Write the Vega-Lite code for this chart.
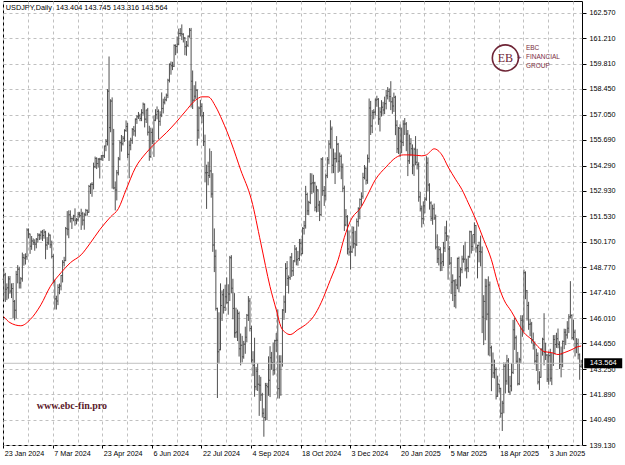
{
"$schema": "https://vega.github.io/schema/vega-lite/v6.json",
"width": 579, "height": 444,
"autosize": {"type": "none"},
"padding": {"left": 3, "top": 1, "right": 43, "bottom": 20},
"background": "white",
"config": {"view": {"stroke": "#000", "strokeWidth": 1}, "font": "Liberation Sans", "axis": {"labelOverlap": false}},
"datasets": {
"bars": [
{"d":"2024-01-23","o":148.12,"h":148.70,"l":146.98,"c":148.36,"ma":146.09},
{"d":"2024-01-24","o":148.36,"h":148.47,"l":146.89,"c":147.58},
{"d":"2024-01-25","o":147.58,"h":147.90,"l":146.99,"c":147.66},
{"d":"2024-01-26","o":147.66,"h":148.29,"l":147.07,"c":148.14},
{"d":"2024-01-29","o":148.14,"h":148.30,"l":147.34,"c":147.48,"ma":145.77},
{"d":"2024-01-30","o":147.48,"h":147.90,"l":147.10,"c":147.62},
{"d":"2024-01-31","o":147.62,"h":147.92,"l":146.00,"c":146.92},
{"d":"2024-02-01","o":146.92,"h":147.00,"l":145.90,"c":146.44},
{"d":"2024-02-02","o":146.44,"h":148.58,"l":146.00,"c":148.38},
{"d":"2024-02-05","o":148.38,"h":148.89,"l":147.90,"c":148.67},
{"d":"2024-02-06","o":148.67,"h":148.80,"l":147.62,"c":147.92},
{"d":"2024-02-07","o":147.92,"h":148.24,"l":147.62,"c":148.15,"ma":145.60},
{"d":"2024-02-08","o":148.15,"h":149.57,"l":147.99,"c":149.30},
{"d":"2024-02-09","o":149.30,"h":149.49,"l":148.86,"c":149.27},
{"d":"2024-02-12","o":149.27,"h":149.53,"l":148.92,"c":149.35},
{"d":"2024-02-13","o":149.35,"h":150.89,"l":149.18,"c":150.80},
{"d":"2024-02-14","o":150.80,"h":150.88,"l":150.35,"c":150.58},
{"d":"2024-02-15","o":150.58,"h":150.60,"l":149.50,"c":149.92,"ma":145.93},
{"d":"2024-02-16","o":149.92,"h":150.47,"l":149.72,"c":150.20},
{"d":"2024-02-19","o":150.20,"h":150.34,"l":149.98,"c":150.12},
{"d":"2024-02-20","o":150.12,"h":150.29,"l":149.67,"c":150.03},
{"d":"2024-02-21","o":150.03,"h":150.36,"l":149.80,"c":150.29},
{"d":"2024-02-22","o":150.29,"h":150.63,"l":150.10,"c":150.52},
{"d":"2024-02-23","o":150.52,"h":150.60,"l":150.25,"c":150.51},
{"d":"2024-02-26","o":150.51,"h":150.76,"l":150.28,"c":150.68,"ma":146.74},
{"d":"2024-02-27","o":150.68,"h":150.80,"l":150.20,"c":150.50},
{"d":"2024-02-28","o":150.50,"h":150.84,"l":150.32,"c":150.68},
{"d":"2024-02-29","o":150.68,"h":150.75,"l":149.21,"c":149.98},
{"d":"2024-03-01","o":149.98,"h":150.41,"l":149.72,"c":150.10},
{"d":"2024-03-04","o":150.10,"h":150.65,"l":149.99,"c":150.52},
{"d":"2024-03-05","o":150.52,"h":150.55,"l":149.81,"c":150.00,"ma":147.72},
{"d":"2024-03-06","o":150.00,"h":150.22,"l":149.25,"c":149.36},
{"d":"2024-03-07","o":149.36,"h":149.48,"l":147.90,"c":147.99},
{"d":"2024-03-08","o":147.99,"h":148.10,"l":146.48,"c":147.06},
{"d":"2024-03-11","o":147.06,"h":147.23,"l":146.48,"c":146.94},
{"d":"2024-03-12","o":146.94,"h":147.85,"l":146.72,"c":147.68},
{"d":"2024-03-13","o":147.68,"h":147.89,"l":147.31,"c":147.76},
{"d":"2024-03-14","o":147.76,"h":148.36,"l":147.52,"c":148.33,"ma":148.48},
{"d":"2024-03-15","o":148.33,"h":149.16,"l":147.95,"c":149.04},
{"d":"2024-03-18","o":149.04,"h":149.34,"l":148.82,"c":149.14},
{"d":"2024-03-19","o":149.14,"h":150.96,"l":149.10,"c":150.87},
{"d":"2024-03-20","o":150.87,"h":151.82,"l":150.50,"c":150.84},
{"d":"2024-03-21","o":150.84,"h":151.86,"l":150.35,"c":151.62},
{"d":"2024-03-22","o":151.62,"h":151.86,"l":151.20,"c":151.42,"ma":149.02},
{"d":"2024-03-25","o":151.42,"h":151.48,"l":150.85,"c":151.41},
{"d":"2024-03-26","o":151.41,"h":151.62,"l":151.27,"c":151.55},
{"d":"2024-03-27","o":151.55,"h":151.97,"l":151.03,"c":151.33},
{"d":"2024-03-28","o":151.33,"h":151.45,"l":151.10,"c":151.35},
{"d":"2024-04-01","o":151.35,"h":151.77,"l":151.25,"c":151.65},
{"d":"2024-04-02","o":151.65,"h":151.78,"l":151.47,"c":151.57},
{"d":"2024-04-03","o":151.57,"h":151.95,"l":150.80,"c":151.68,"ma":149.45},
{"d":"2024-04-04","o":151.68,"h":151.78,"l":151.04,"c":151.33},
{"d":"2024-04-05","o":151.33,"h":151.73,"l":150.81,"c":151.62},
{"d":"2024-04-08","o":151.62,"h":151.94,"l":151.54,"c":151.86},
{"d":"2024-04-09","o":151.86,"h":151.90,"l":151.58,"c":151.76},
{"d":"2024-04-10","o":151.76,"h":153.24,"l":151.73,"c":153.16},
{"d":"2024-04-11","o":153.16,"h":153.32,"l":152.75,"c":153.28,"ma":150.10},
{"d":"2024-04-12","o":153.28,"h":153.39,"l":152.60,"c":153.27},
{"d":"2024-04-15","o":153.27,"h":154.45,"l":153.00,"c":154.23},
{"d":"2024-04-16","o":154.23,"h":154.78,"l":154.15,"c":154.68},
{"d":"2024-04-17","o":154.68,"h":154.74,"l":154.10,"c":154.40},
{"d":"2024-04-18","o":154.40,"h":154.70,"l":154.18,"c":154.63},
{"d":"2024-04-19","o":154.63,"h":154.71,"l":153.59,"c":154.64,"ma":150.81},
{"d":"2024-04-22","o":154.64,"h":154.86,"l":154.57,"c":154.82},
{"d":"2024-04-23","o":154.82,"h":154.88,"l":154.54,"c":154.82},
{"d":"2024-04-24","o":154.82,"h":155.37,"l":154.70,"c":155.35},
{"d":"2024-04-25","o":155.35,"h":155.73,"l":155.07,"c":155.60},
{"d":"2024-04-26","o":155.60,"h":158.44,"l":155.38,"c":158.33},
{"d":"2024-04-29","o":158.33,"h":160.21,"l":154.54,"c":156.35},
{"d":"2024-04-30","o":156.35,"h":157.89,"l":156.10,"c":157.79,"ma":151.51},
{"d":"2024-05-01","o":157.79,"h":157.99,"l":153.04,"c":155.46},
{"d":"2024-05-02","o":155.46,"h":156.28,"l":153.00,"c":153.08},
{"d":"2024-05-03","o":153.08,"h":153.43,"l":151.86,"c":152.97},
{"d":"2024-05-06","o":152.97,"h":154.05,"l":152.40,"c":153.90},
{"d":"2024-05-07","o":153.90,"h":154.76,"l":153.76,"c":154.65,"ma":151.95},
{"d":"2024-05-08","o":154.65,"h":155.66,"l":154.57,"c":155.53},
{"d":"2024-05-09","o":155.53,"h":155.95,"l":155.05,"c":155.47},
{"d":"2024-05-10","o":155.47,"h":155.90,"l":155.38,"c":155.77},
{"d":"2024-05-13","o":155.77,"h":156.26,"l":155.58,"c":156.20},
{"d":"2024-05-14","o":156.20,"h":156.74,"l":156.12,"c":156.41,"ma":152.98},
{"d":"2024-05-15","o":156.41,"h":156.60,"l":154.70,"c":154.90},
{"d":"2024-05-16","o":154.90,"h":155.65,"l":153.60,"c":155.40},
{"d":"2024-05-17","o":155.40,"h":155.80,"l":155.12,"c":155.66},
{"d":"2024-05-20","o":155.66,"h":156.33,"l":155.47,"c":156.25},
{"d":"2024-05-21","o":156.25,"h":156.44,"l":155.91,"c":156.17},
{"d":"2024-05-22","o":156.17,"h":156.85,"l":155.86,"c":156.80,"ma":154.17},
{"d":"2024-05-23","o":156.80,"h":157.02,"l":156.55,"c":156.94},
{"d":"2024-05-24","o":156.94,"h":157.20,"l":156.82,"c":156.99},
{"d":"2024-05-27","o":156.99,"h":157.11,"l":156.70,"c":156.85},
{"d":"2024-05-28","o":156.85,"h":157.35,"l":156.70,"c":157.16},
{"d":"2024-05-29","o":157.16,"h":157.71,"l":157.05,"c":157.62},
{"d":"2024-05-30","o":157.62,"h":157.66,"l":156.36,"c":156.81},
{"d":"2024-05-31","o":156.81,"h":157.32,"l":156.60,"c":157.30,"ma":154.98},
{"d":"2024-06-03","o":157.30,"h":157.42,"l":155.92,"c":156.10},
{"d":"2024-06-04","o":156.10,"h":156.45,"l":154.55,"c":154.78},
{"d":"2024-06-05","o":154.78,"h":156.35,"l":154.70,"c":156.09},
{"d":"2024-06-06","o":156.09,"h":156.30,"l":155.45,"c":155.61},
{"d":"2024-06-07","o":155.61,"h":157.00,"l":154.76,"c":156.75},
{"d":"2024-06-10","o":156.75,"h":157.35,"l":156.70,"c":157.05,"ma":155.52},
{"d":"2024-06-11","o":157.05,"h":157.50,"l":156.80,"c":157.23},
{"d":"2024-06-12","o":157.23,"h":157.34,"l":155.72,"c":156.69},
{"d":"2024-06-13","o":156.69,"h":157.24,"l":156.45,"c":157.04},
{"d":"2024-06-14","o":157.04,"h":158.26,"l":156.92,"c":157.39},
{"d":"2024-06-17","o":157.39,"h":157.92,"l":157.12,"c":157.73},
{"d":"2024-06-18","o":157.73,"h":158.03,"l":157.61,"c":157.86},
{"d":"2024-06-19","o":157.86,"h":158.20,"l":157.78,"c":158.11,"ma":156.07},
{"d":"2024-06-20","o":158.11,"h":159.00,"l":157.95,"c":158.92},
{"d":"2024-06-21","o":158.92,"h":159.83,"l":158.80,"c":159.79},
{"d":"2024-06-24","o":159.79,"h":159.94,"l":159.22,"c":159.71},
{"d":"2024-06-25","o":159.71,"h":159.92,"l":159.47,"c":159.68},
{"d":"2024-06-26","o":159.68,"h":160.87,"l":159.64,"c":160.80},
{"d":"2024-06-27","o":160.80,"h":160.87,"l":160.28,"c":160.75,"ma":156.61},
{"d":"2024-06-28","o":160.75,"h":161.29,"l":160.38,"c":160.88},
{"d":"2024-07-01","o":160.88,"h":161.72,"l":160.82,"c":161.46},
{"d":"2024-07-02","o":161.46,"h":161.75,"l":161.30,"c":161.45},
{"d":"2024-07-03","o":161.45,"h":161.95,"l":161.10,"c":161.42},
{"d":"2024-07-04","o":161.42,"h":161.47,"l":160.97,"c":161.21},
{"d":"2024-07-05","o":161.21,"h":161.27,"l":160.28,"c":160.74,"ma":157.20},
{"d":"2024-07-08","o":160.74,"h":161.05,"l":160.25,"c":160.82},
{"d":"2024-07-09","o":160.82,"h":161.35,"l":160.72,"c":161.31},
{"d":"2024-07-10","o":161.31,"h":161.75,"l":161.23,"c":161.63},
{"d":"2024-07-11","o":161.63,"h":161.76,"l":157.44,"c":158.86},
{"d":"2024-07-12","o":158.86,"h":159.45,"l":157.36,"c":157.84},
{"d":"2024-07-15","o":157.84,"h":158.65,"l":157.79,"c":158.05},
{"d":"2024-07-16","o":158.05,"h":158.86,"l":157.91,"c":158.38,"ma":157.85},
{"d":"2024-07-17","o":158.38,"h":158.42,"l":155.37,"c":156.21},
{"d":"2024-07-18","o":156.21,"h":157.50,"l":155.75,"c":157.41},
{"d":"2024-07-19","o":157.41,"h":157.86,"l":156.96,"c":157.49},
{"d":"2024-07-22","o":157.49,"h":157.67,"l":156.59,"c":156.99,"ma":158.02},
{"d":"2024-07-23","o":156.99,"h":157.20,"l":155.35,"c":155.59},
{"d":"2024-07-24","o":155.59,"h":155.97,"l":153.38,"c":153.90},
{"d":"2024-07-25","o":153.90,"h":154.34,"l":151.94,"c":153.91},
{"d":"2024-07-26","o":153.91,"h":154.50,"l":153.22,"c":153.75,"ma":158.02},
{"d":"2024-07-29","o":153.75,"h":155.22,"l":153.62,"c":154.00},
{"d":"2024-07-30","o":154.00,"h":155.08,"l":152.55,"c":152.75},
{"d":"2024-07-31","o":152.75,"h":153.88,"l":149.61,"c":149.98},
{"d":"2024-08-01","o":149.98,"h":150.88,"l":148.51,"c":149.37},
{"d":"2024-08-02","o":149.37,"h":149.73,"l":146.42,"c":146.54,"ma":157.47},
{"d":"2024-08-05","o":146.54,"h":146.58,"l":141.68,"c":144.19},
{"d":"2024-08-06","o":144.19,"h":146.33,"l":143.56,"c":144.30},
{"d":"2024-08-07","o":144.30,"h":147.90,"l":144.27,"c":146.70},
{"d":"2024-08-08","o":146.70,"h":147.52,"l":145.86,"c":147.28,"ma":156.77},
{"d":"2024-08-09","o":147.28,"h":147.60,"l":146.26,"c":146.60},
{"d":"2024-08-12","o":146.60,"h":147.83,"l":146.40,"c":147.18},
{"d":"2024-08-13","o":147.18,"h":148.22,"l":146.80,"c":146.85},
{"d":"2024-08-14","o":146.85,"h":147.85,"l":146.20,"c":147.32},
{"d":"2024-08-15","o":147.32,"h":149.39,"l":146.94,"c":149.29},
{"d":"2024-08-16","o":149.29,"h":149.43,"l":147.36,"c":147.63,"ma":155.52},
{"d":"2024-08-19","o":147.63,"h":148.15,"l":145.95,"c":146.54},
{"d":"2024-08-20","o":146.54,"h":147.37,"l":144.95,"c":145.22},
{"d":"2024-08-21","o":145.22,"h":146.58,"l":144.94,"c":145.26},
{"d":"2024-08-22","o":145.26,"h":146.48,"l":144.77,"c":146.26},
{"d":"2024-08-23","o":146.26,"h":146.37,"l":143.93,"c":144.35},
{"d":"2024-08-26","o":144.35,"h":145.18,"l":143.45,"c":144.54,"ma":154.06},
{"d":"2024-08-27","o":144.54,"h":145.05,"l":143.61,"c":143.92},
{"d":"2024-08-28","o":143.92,"h":144.78,"l":143.81,"c":144.60},
{"d":"2024-08-29","o":144.60,"h":145.55,"l":144.08,"c":144.98},
{"d":"2024-08-30","o":144.98,"h":146.24,"l":144.70,"c":146.17},
{"d":"2024-09-02","o":146.17,"h":147.21,"l":145.86,"c":146.94},
{"d":"2024-09-03","o":146.94,"h":147.10,"l":145.29,"c":145.45},
{"d":"2024-09-04","o":145.45,"h":145.60,"l":143.60,"c":143.74,"ma":152.43},
{"d":"2024-09-05","o":143.74,"h":144.22,"l":142.87,"c":143.45},
{"d":"2024-09-06","o":143.45,"h":144.95,"l":141.75,"c":142.29},
{"d":"2024-09-09","o":142.29,"h":143.36,"l":142.10,"c":143.13},
{"d":"2024-09-10","o":143.13,"h":143.57,"l":142.06,"c":142.43},
{"d":"2024-09-11","o":142.43,"h":142.92,"l":140.71,"c":142.37},
{"d":"2024-09-12","o":142.37,"h":142.83,"l":141.52,"c":141.85,"ma":150.10},
{"d":"2024-09-13","o":141.85,"h":141.96,"l":140.62,"c":140.85},
{"d":"2024-09-16","o":140.85,"h":141.12,"l":139.58,"c":140.62},
{"d":"2024-09-17","o":140.62,"h":142.50,"l":140.45,"c":142.36},
{"d":"2024-09-18","o":142.36,"h":142.50,"l":140.48,"c":142.29},
{"d":"2024-09-19","o":142.29,"h":143.94,"l":141.80,"c":142.64},
{"d":"2024-09-20","o":142.64,"h":144.49,"l":141.73,"c":143.86,"ma":147.72},
{"d":"2024-09-23","o":143.86,"h":144.18,"l":143.21,"c":143.60},
{"d":"2024-09-24","o":143.60,"h":144.69,"l":142.90,"c":143.19},
{"d":"2024-09-25","o":143.19,"h":144.84,"l":142.95,"c":144.79},
{"d":"2024-09-26","o":144.79,"h":145.20,"l":144.18,"c":144.82,"ma":146.47},
{"d":"2024-09-27","o":144.82,"h":146.49,"l":141.65,"c":142.19},
{"d":"2024-09-30","o":142.19,"h":144.00,"l":141.65,"c":143.63},
{"d":"2024-10-01","o":143.63,"h":144.00,"l":141.80,"c":143.55,"ma":145.55},
{"d":"2024-10-02","o":143.55,"h":146.50,"l":143.38,"c":146.45},
{"d":"2024-10-03","o":146.45,"h":147.24,"l":145.92,"c":146.89},
{"d":"2024-10-04","o":146.89,"h":149.00,"l":146.30,"c":148.70,"ma":145.23},
{"d":"2024-10-07","o":148.70,"h":149.11,"l":147.76,"c":148.17},
{"d":"2024-10-08","o":148.17,"h":148.33,"l":147.35,"c":148.21},
{"d":"2024-10-09","o":148.21,"h":149.37,"l":148.09,"c":149.32,"ma":145.12},
{"d":"2024-10-10","o":149.32,"h":149.55,"l":148.25,"c":148.58},
{"d":"2024-10-11","o":148.58,"h":149.15,"l":148.30,"c":149.13},
{"d":"2024-10-14","o":149.13,"h":149.98,"l":149.04,"c":149.76},
{"d":"2024-10-15","o":149.76,"h":149.86,"l":148.88,"c":149.18},
{"d":"2024-10-16","o":149.18,"h":149.66,"l":148.86,"c":149.25,"ma":145.39},
{"d":"2024-10-17","o":149.25,"h":150.31,"l":149.12,"c":150.07},
{"d":"2024-10-18","o":150.07,"h":150.32,"l":149.40,"c":149.51},
{"d":"2024-10-21","o":149.51,"h":150.95,"l":149.49,"c":150.88},
{"d":"2024-10-22","o":150.88,"h":151.29,"l":150.55,"c":151.03},
{"d":"2024-10-23","o":151.03,"h":153.19,"l":150.87,"c":152.72,"ma":145.66},
{"d":"2024-10-24","o":152.72,"h":152.82,"l":151.61,"c":151.84},
{"d":"2024-10-25","o":151.84,"h":152.38,"l":151.60,"c":152.29},
{"d":"2024-10-28","o":152.29,"h":153.88,"l":152.20,"c":153.30},
{"d":"2024-10-29","o":153.30,"h":153.87,"l":152.74,"c":153.35},
{"d":"2024-10-30","o":153.35,"h":153.79,"l":152.82,"c":153.35,"ma":146.09},
{"d":"2024-10-31","o":153.35,"h":153.41,"l":151.81,"c":152.03},
{"d":"2024-11-01","o":152.03,"h":153.20,"l":151.75,"c":152.97},
{"d":"2024-11-04","o":152.97,"h":153.00,"l":151.78,"c":152.15},
{"d":"2024-11-05","o":152.15,"h":152.38,"l":151.28,"c":151.63},
{"d":"2024-11-06","o":151.63,"h":154.70,"l":151.55,"c":154.64,"ma":146.85},
{"d":"2024-11-07","o":154.64,"h":154.75,"l":152.65,"c":152.94},
{"d":"2024-11-08","o":152.94,"h":153.18,"l":152.10,"c":152.66},
{"d":"2024-11-11","o":152.66,"h":153.86,"l":152.40,"c":153.74},
{"d":"2024-11-12","o":153.74,"h":154.75,"l":153.61,"c":154.61},
{"d":"2024-11-13","o":154.61,"h":155.65,"l":154.36,"c":155.46},
{"d":"2024-11-14","o":155.46,"h":156.75,"l":155.21,"c":156.27,"ma":148.10},
{"d":"2024-11-15","o":156.27,"h":156.41,"l":153.87,"c":154.31},
{"d":"2024-11-18","o":154.31,"h":155.21,"l":153.88,"c":154.66},
{"d":"2024-11-19","o":154.66,"h":155.00,"l":153.29,"c":154.67},
{"d":"2024-11-20","o":154.67,"h":155.89,"l":154.46,"c":155.45},
{"d":"2024-11-21","o":155.45,"h":155.52,"l":153.90,"c":154.53,"ma":149.18},
{"d":"2024-11-22","o":154.53,"h":155.00,"l":153.96,"c":154.79},
{"d":"2024-11-25","o":154.79,"h":154.89,"l":153.55,"c":154.21},
{"d":"2024-11-26","o":154.21,"h":154.40,"l":152.85,"c":153.06},
{"d":"2024-11-27","o":153.06,"h":153.20,"l":150.74,"c":151.07,"ma":150.40},
{"d":"2024-11-28","o":151.07,"h":151.93,"l":151.00,"c":151.52},
{"d":"2024-11-29","o":151.52,"h":151.60,"l":149.47,"c":149.77},
{"d":"2024-12-02","o":149.77,"h":150.77,"l":149.40,"c":149.60},
{"d":"2024-12-03","o":149.60,"h":149.95,"l":148.65,"c":149.61,"ma":151.30},
{"d":"2024-12-04","o":149.61,"h":151.00,"l":149.55,"c":150.64},
{"d":"2024-12-05","o":150.64,"h":150.98,"l":149.80,"c":150.05},
{"d":"2024-12-06","o":150.05,"h":150.75,"l":149.37,"c":150.00},
{"d":"2024-12-09","o":150.00,"h":151.42,"l":149.93,"c":151.25},
{"d":"2024-12-10","o":151.25,"h":152.03,"l":150.98,"c":151.96},
{"d":"2024-12-11","o":151.96,"h":152.51,"l":151.38,"c":152.45},
{"d":"2024-12-12","o":152.45,"h":152.84,"l":152.10,"c":152.62,"ma":152.06},
{"d":"2024-12-13","o":152.62,"h":153.90,"l":152.49,"c":153.65},
{"d":"2024-12-16","o":153.65,"h":154.32,"l":153.54,"c":154.15},
{"d":"2024-12-17","o":154.15,"h":154.19,"l":153.26,"c":153.49},
{"d":"2024-12-18","o":153.49,"h":154.89,"l":153.30,"c":154.68,"ma":152.70},
{"d":"2024-12-19","o":154.68,"h":157.93,"l":154.45,"c":157.41},
{"d":"2024-12-20","o":157.41,"h":157.80,"l":155.95,"c":156.44},
{"d":"2024-12-23","o":156.44,"h":157.30,"l":156.05,"c":157.17},
{"d":"2024-12-24","o":157.17,"h":157.35,"l":156.80,"c":157.19},
{"d":"2024-12-26","o":157.19,"h":157.93,"l":157.00,"c":157.85,"ma":153.52},
{"d":"2024-12-27","o":157.85,"h":158.08,"l":157.48,"c":157.89},
{"d":"2024-12-30","o":157.89,"h":157.95,"l":156.50,"c":156.82},
{"d":"2024-12-31","o":156.82,"h":157.46,"l":156.14,"c":157.20},
{"d":"2025-01-02","o":157.20,"h":157.84,"l":156.95,"c":157.46},
{"d":"2025-01-03","o":157.46,"h":157.75,"l":157.05,"c":157.30},
{"d":"2025-01-06","o":157.30,"h":158.03,"l":157.08,"c":157.65},
{"d":"2025-01-07","o":157.65,"h":158.40,"l":157.34,"c":158.08,"ma":154.22},
{"d":"2025-01-08","o":158.08,"h":158.55,"l":157.88,"c":158.32},
{"d":"2025-01-09","o":158.32,"h":158.48,"l":157.75,"c":158.04},
{"d":"2025-01-10","o":158.04,"h":158.87,"l":157.30,"c":157.75},
{"d":"2025-01-13","o":157.75,"h":158.00,"l":157.10,"c":157.52},
{"d":"2025-01-14","o":157.52,"h":158.25,"l":157.20,"c":158.00},
{"d":"2025-01-15","o":158.00,"h":158.08,"l":155.94,"c":156.48,"ma":154.71},
{"d":"2025-01-16","o":156.48,"h":156.75,"l":154.97,"c":155.20},
{"d":"2025-01-17","o":155.20,"h":156.38,"l":154.92,"c":156.32},
{"d":"2025-01-20","o":156.32,"h":156.53,"l":154.75,"c":155.61},
{"d":"2025-01-21","o":155.61,"h":156.35,"l":154.96,"c":155.55},
{"d":"2025-01-22","o":155.55,"h":156.75,"l":155.35,"c":156.55,"ma":154.87},
{"d":"2025-01-23","o":156.55,"h":156.87,"l":155.95,"c":156.55},
{"d":"2025-01-24","o":156.55,"h":156.65,"l":155.07,"c":156.01},
{"d":"2025-01-27","o":156.01,"h":156.22,"l":153.72,"c":154.55},
{"d":"2025-01-28","o":154.55,"h":155.97,"l":154.38,"c":155.48},
{"d":"2025-01-29","o":155.48,"h":155.78,"l":154.80,"c":155.21,"ma":154.87},
{"d":"2025-01-30","o":155.21,"h":155.44,"l":153.82,"c":154.32},
{"d":"2025-01-31","o":154.32,"h":155.26,"l":153.73,"c":155.18},
{"d":"2025-02-03","o":155.18,"h":155.89,"l":154.31,"c":154.47},
{"d":"2025-02-04","o":154.47,"h":155.20,"l":154.08,"c":154.33},
{"d":"2025-02-05","o":154.33,"h":154.47,"l":152.33,"c":152.59},
{"d":"2025-02-06","o":152.59,"h":152.86,"l":151.80,"c":151.95},
{"d":"2025-02-07","o":151.95,"h":152.12,"l":150.93,"c":151.41,"ma":154.82},
{"d":"2025-02-10","o":151.41,"h":152.35,"l":151.11,"c":152.11},
{"d":"2025-02-11","o":152.11,"h":152.59,"l":151.70,"c":152.47},
{"d":"2025-02-12","o":152.47,"h":154.80,"l":152.38,"c":154.43,"ma":154.87},
{"d":"2025-02-13","o":154.43,"h":154.73,"l":152.88,"c":153.24},
{"d":"2025-02-14","o":153.24,"h":153.33,"l":151.90,"c":152.26},
{"d":"2025-02-17","o":152.26,"h":152.35,"l":151.28,"c":151.43},
{"d":"2025-02-18","o":151.43,"h":152.17,"l":151.08,"c":151.95},
{"d":"2025-02-19","o":151.95,"h":152.23,"l":151.34,"c":151.45,"ma":155.20},
{"d":"2025-02-20","o":151.45,"h":151.63,"l":149.74,"c":149.87},
{"d":"2025-02-21","o":149.87,"h":150.56,"l":149.00,"c":149.24},
{"d":"2025-02-24","o":149.24,"h":149.92,"l":148.87,"c":149.73},
{"d":"2025-02-25","o":149.73,"h":149.86,"l":148.56,"c":149.01},
{"d":"2025-02-26","o":149.01,"h":149.53,"l":148.57,"c":149.08,"ma":154.87},
{"d":"2025-02-27","o":149.08,"h":150.15,"l":148.83,"c":149.82},
{"d":"2025-02-28","o":149.82,"h":151.00,"l":149.60,"c":150.63},
{"d":"2025-03-03","o":150.63,"h":151.30,"l":150.20,"c":150.47},
{"d":"2025-03-04","o":150.47,"h":150.50,"l":148.10,"c":149.76,"ma":154.22},
{"d":"2025-03-05","o":149.76,"h":149.93,"l":148.90,"c":149.00},
{"d":"2025-03-06","o":149.00,"h":149.33,"l":147.32,"c":147.96},
{"d":"2025-03-07","o":147.96,"h":148.39,"l":146.94,"c":148.04},
{"d":"2025-03-10","o":148.04,"h":148.10,"l":146.61,"c":147.24},
{"d":"2025-03-11","o":147.24,"h":148.13,"l":146.54,"c":147.81,"ma":153.52},
{"d":"2025-03-12","o":147.81,"h":149.30,"l":147.58,"c":149.25},
{"d":"2025-03-13","o":149.25,"h":149.35,"l":147.41,"c":148.26},
{"d":"2025-03-14","o":148.26,"h":148.75,"l":147.73,"c":148.64},
{"d":"2025-03-17","o":148.64,"h":149.40,"l":148.45,"c":149.22,"ma":152.98},
{"d":"2025-03-18","o":149.22,"h":149.97,"l":149.02,"c":149.21},
{"d":"2025-03-19","o":149.21,"h":150.16,"l":148.55,"c":148.69},
{"d":"2025-03-20","o":148.69,"h":149.24,"l":148.17,"c":148.74},
{"d":"2025-03-21","o":148.74,"h":149.40,"l":148.51,"c":149.35,"ma":152.27},
{"d":"2025-03-24","o":149.35,"h":150.76,"l":149.29,"c":150.70},
{"d":"2025-03-25","o":150.70,"h":150.75,"l":149.52,"c":149.90},
{"d":"2025-03-26","o":149.90,"h":150.54,"l":149.66,"c":150.55},
{"d":"2025-03-27","o":150.55,"h":151.21,"l":150.07,"c":151.04},
{"d":"2025-03-28","o":151.04,"h":151.07,"l":149.57,"c":149.83,"ma":151.35},
{"d":"2025-03-31","o":149.83,"h":150.00,"l":148.17,"c":149.95},
{"d":"2025-04-01","o":149.95,"h":150.16,"l":149.04,"c":149.63},
{"d":"2025-04-02","o":149.63,"h":150.49,"l":148.82,"c":149.60},
{"d":"2025-04-03","o":149.60,"h":149.90,"l":145.20,"c":146.07},
{"d":"2025-04-04","o":146.07,"h":147.26,"l":144.55,"c":146.92,"ma":150.27},
{"d":"2025-04-07","o":146.92,"h":148.15,"l":144.81,"c":147.74},
{"d":"2025-04-08","o":147.74,"h":148.13,"l":145.90,"c":146.23},
{"d":"2025-04-09","o":146.23,"h":148.28,"l":143.99,"c":147.81},
{"d":"2025-04-10","o":147.81,"h":148.00,"l":143.94,"c":144.41},
{"d":"2025-04-11","o":144.41,"h":144.52,"l":142.05,"c":143.47,"ma":149.18},
{"d":"2025-04-14","o":143.47,"h":144.15,"l":142.77,"c":143.04},
{"d":"2025-04-15","o":143.04,"h":143.76,"l":142.74,"c":143.22},
{"d":"2025-04-16","o":143.22,"h":143.34,"l":141.60,"c":141.77},
{"d":"2025-04-17","o":141.77,"h":142.89,"l":141.74,"c":142.43,"ma":147.94},
{"d":"2025-04-18","o":142.43,"h":142.45,"l":141.98,"c":142.20},
{"d":"2025-04-21","o":142.20,"h":142.24,"l":140.61,"c":140.85},
{"d":"2025-04-22","o":140.85,"h":141.53,"l":139.89,"c":141.40},
{"d":"2025-04-23","o":141.40,"h":143.61,"l":140.85,"c":143.40,"ma":147.02},
{"d":"2025-04-24","o":143.40,"h":143.60,"l":141.93,"c":142.60},
{"d":"2025-04-25","o":142.60,"h":144.02,"l":142.40,"c":143.70},
{"d":"2025-04-28","o":143.70,"h":143.84,"l":141.97,"c":142.00},
{"d":"2025-04-29","o":142.00,"h":142.88,"l":141.85,"c":142.33},
{"d":"2025-04-30","o":142.33,"h":143.57,"l":142.04,"c":143.07,"ma":146.36},
{"d":"2025-05-01","o":143.07,"h":145.92,"l":142.98,"c":145.38},
{"d":"2025-05-02","o":145.38,"h":146.04,"l":144.29,"c":144.95},
{"d":"2025-05-05","o":144.95,"h":145.07,"l":143.53,"c":143.67},
{"d":"2025-05-06","o":143.67,"h":144.18,"l":142.36,"c":142.45,"ma":145.77},
{"d":"2025-05-07","o":142.45,"h":143.86,"l":142.38,"c":143.75},
{"d":"2025-05-08","o":143.75,"h":146.17,"l":143.58,"c":145.90},
{"d":"2025-05-09","o":145.90,"h":146.17,"l":145.00,"c":145.36},
{"d":"2025-05-12","o":145.36,"h":148.65,"l":145.28,"c":148.48,"ma":145.23},
{"d":"2025-05-13","o":148.48,"h":148.55,"l":147.04,"c":147.50},
{"d":"2025-05-14","o":147.50,"h":147.54,"l":145.88,"c":146.70},
{"d":"2025-05-15","o":146.70,"h":146.90,"l":145.38,"c":145.68},
{"d":"2025-05-16","o":145.68,"h":145.98,"l":145.03,"c":145.70},
{"d":"2025-05-19","o":145.70,"h":145.81,"l":144.64,"c":144.85,"ma":144.85},
{"d":"2025-05-20","o":144.85,"h":145.23,"l":144.31,"c":144.55},
{"d":"2025-05-21","o":144.55,"h":144.75,"l":143.50,"c":143.68},
{"d":"2025-05-22","o":143.68,"h":144.35,"l":143.15,"c":143.98},
{"d":"2025-05-23","o":143.98,"h":144.15,"l":142.42,"c":142.55,"ma":144.47},
{"d":"2025-05-26","o":142.55,"h":143.13,"l":142.11,"c":142.80},
{"d":"2025-05-27","o":142.80,"h":144.39,"l":142.78,"c":144.32},
{"d":"2025-05-28","o":144.32,"h":144.95,"l":143.98,"c":144.87},
{"d":"2025-05-29","o":144.87,"h":146.28,"l":143.45,"c":144.15,"ma":144.20},
{"d":"2025-05-30","o":144.15,"h":144.68,"l":143.74,"c":144.01},
{"d":"2025-06-02","o":144.01,"h":144.06,"l":142.55,"c":142.71},
{"d":"2025-06-03","o":142.71,"h":144.20,"l":142.40,"c":143.98},
{"d":"2025-06-04","o":143.98,"h":144.35,"l":142.57,"c":142.75},
{"d":"2025-06-05","o":142.75,"h":144.12,"l":142.38,"c":143.56,"ma":144.14},
{"d":"2025-06-06","o":143.56,"h":145.09,"l":143.42,"c":144.85},
{"d":"2025-06-09","o":144.85,"h":145.10,"l":144.05,"c":144.58},
{"d":"2025-06-10","o":144.58,"h":145.22,"l":144.40,"c":144.90},
{"d":"2025-06-11","o":144.90,"h":145.45,"l":144.38,"c":144.59,"ma":144.04},
{"d":"2025-06-12","o":144.59,"h":144.76,"l":143.25,"c":143.51},
{"d":"2025-06-13","o":143.51,"h":144.47,"l":142.80,"c":144.07},
{"d":"2025-06-16","o":144.07,"h":144.80,"l":143.35,"c":144.75},
{"d":"2025-06-17","o":144.75,"h":145.44,"l":144.33,"c":145.25,"ma":144.14},
{"d":"2025-06-18","o":145.25,"h":145.43,"l":144.55,"c":145.10},
{"d":"2025-06-19","o":145.10,"h":145.85,"l":144.90,"c":145.47},
{"d":"2025-06-20","o":145.47,"h":146.23,"l":145.20,"c":146.08},
{"d":"2025-06-23","o":146.08,"h":148.02,"l":146.00,"c":146.15},
{"d":"2025-06-24","o":146.15,"h":146.23,"l":144.85,"c":144.95,"ma":144.31},
{"d":"2025-06-25","o":144.95,"h":145.93,"l":144.82,"c":145.25},
{"d":"2025-06-26","o":145.25,"h":145.39,"l":143.93,"c":144.43},
{"d":"2025-06-27","o":144.43,"h":144.93,"l":144.11,"c":144.63},
{"d":"2025-06-30","o":144.63,"h":144.90,"l":143.77,"c":144.03,"ma":144.47},
{"d":"2025-07-01","o":144.03,"h":144.10,"l":142.67,"c":143.40},
{"d":"2025-07-02","o":143.40,"h":143.75,"l":143.32,"c":143.56,"ma":144.50}
],
"bid": [{"d":"2025-07-02","p":143.564,"t":"143.564"}],
"head": [{"d":"2024-01-23","p":162.84,"t":"USDJPY,Daily\u00a0 143.404 143.745 143.316 143.564"}],
"wm": [{"d":"2024-03-25","p":141.24,"t":"www.ebc-fin.pro"}],
"logo": [{"d":"2025-04-24","p":160.13,"t":"EB"}],
"plus": [{"d":"2025-05-07","p":160.13,"t":"+"}],
"words": [{"d":"2025-05-12","p":160.67,"t":"EBC"},{"d":"2025-05-12","p":160.18,"t":"FINANCIAL"},{"d":"2025-05-12","p":159.69,"t":"GROUP"}]
},
"layer": [
{
"data": {"name": "bars"},
"mark": {"type": "rule", "color": "#505050", "strokeWidth": 1},
"encoding": {
"x": {"field": "d", "type": "ordinal", "scale": {"paddingInner": 0, "paddingOuter": 0},
"axis": {"title": null, "orient": "bottom", "labelAngle": 0,
"values": ["2024-01-23","2024-02-14","2024-03-07","2024-04-01","2024-04-23","2024-05-15","2024-06-06","2024-06-28","2024-07-22","2024-08-13","2024-09-04","2024-09-26","2024-10-18","2024-11-11","2024-12-03","2024-12-26","2025-01-20","2025-02-11","2025-03-05","2025-03-27","2025-04-18","2025-05-12","2025-06-03","2025-06-25"],
"labelExpr": "indexof(['2024-01-23','2024-03-07','2024-04-23','2024-06-06','2024-07-22','2024-09-04','2024-10-18','2024-12-03','2025-01-20','2025-03-05','2025-04-18','2025-06-03'], datum.value) >= 0 ? utcFormat(toDate(datum.value), '%-d %b %Y') : ''",
"tickColor": {"condition": {"test": "indexof(['2024-01-23','2024-03-07','2024-04-23','2024-06-06','2024-07-22','2024-09-04','2024-10-18','2024-12-03','2025-01-20','2025-03-05','2025-04-18','2025-06-03'], datum.value) < 0", "value": "transparent"}, "value": "#000"},
"labelAlign": "left", "labelBaseline": "top", "labelPadding": 1, "labelOffset": 1,
"labelFont": "Liberation Sans", "labelFontSize": 7.2, "labelColor": "#000",
"labelOverlap": false, "labelBound": false, "labelFlush": false,
"tickSize": 3, "domain": false,
"grid": true, "gridColor": "#c0c0c0", "gridDash": [3, 3], "gridWidth": 1}},
"y": {"field": "l", "type": "quantitative", "scale": {"domain": [139.13, 163.22], "nice": false, "zero": false},
"axis": {"title": null, "orient": "right", "tickCount": 40,
"values": [162.57, 161.21, 159.81, 158.45, 157.05, 155.69, 154.29, 152.93, 151.53, 150.17, 148.77, 147.41, 146.01, 144.65, 143.25, 141.89, 140.49, 139.13],
"format": ".3f", "labelFont": "Liberation Sans", "labelFontSize": 7.2, "labelColor": "#000",
"labelPadding": 3, "tickSize": 4, "tickColor": "#000", "domain": false,
"labelBaseline": "middle", "labelBound": false, "labelOverlap": false, "labelFlush": false,
"grid": true, "gridColor": "#c0c0c0", "gridDash": [3, 3], "gridWidth": 1}},
"y2": {"field": "h"}
}
},
{
"data": {"name": "bars"},
"mark": {"type": "tick", "color": "#505050", "size": 1.5, "thickness": 1, "xOffset": -0.7},
"encoding": {
"x": {"field": "d", "type": "ordinal"},
"y": {"field": "o", "type": "quantitative"}
}
},
{
"data": {"name": "bars"},
"mark": {"type": "tick", "color": "#505050", "size": 1.5, "thickness": 1, "xOffset": 0.7},
"encoding": {
"x": {"field": "d", "type": "ordinal"},
"y": {"field": "c", "type": "quantitative"}
}
},
{
"data": {"name": "bid"},
"mark": {"type": "rule", "color": "#c0c0c0", "strokeWidth": 1},
"encoding": {"y": {"field": "p", "type": "quantitative"}}
},
{
"data": {"name": "bars"},
"transform": [{"filter": "isValid(datum.ma)"}],
"mark": {"type": "line", "color": "#ff0000", "strokeWidth": 1, "interpolate": "monotone"},
"encoding": {
"x": {"field": "d", "type": "ordinal"},
"y": {"field": "ma", "type": "quantitative"}
}
},
{
"data": {"name": "bid"},
"mark": {"type": "point", "shape": "M-1,-0.26H1V0.26H-1Z", "filled": true, "color": "#000", "opacity": 1, "size": 1444, "xOffset": 22},
"encoding": {
"x": {"field": "d", "type": "ordinal"},
"y": {"field": "p", "type": "quantitative"}
}
},
{
"data": {"name": "bid"},
"mark": {"type": "text", "color": "#fff", "font": "Liberation Sans", "fontSize": 7.5, "align": "center", "baseline": "middle", "dx": 22},
"encoding": {
"x": {"field": "d", "type": "ordinal"},
"y": {"field": "p", "type": "quantitative"},
"text": {"field": "t"}
}
},
{
"data": {"name": "head"},
"mark": {"type": "text", "color": "#000", "font": "Liberation Sans", "fontSize": 7.3, "align": "left", "baseline": "middle", "dx": 2},
"encoding": {
"x": {"field": "d", "type": "ordinal"},
"y": {"field": "p", "type": "quantitative"},
"text": {"field": "t"}
}
},
{
"data": {"name": "wm"},
"mark": {"type": "text", "color": "#5c1a2b", "font": "Liberation Serif", "fontWeight": "bold", "fontSize": 10, "align": "center", "baseline": "middle"},
"encoding": {
"x": {"field": "d", "type": "ordinal"},
"y": {"field": "p", "type": "quantitative"},
"text": {"field": "t"}
}
},
{
"data": {"name": "logo"},
"mark": {"type": "point", "shape": "circle", "filled": false, "stroke": "#6e2435", "strokeWidth": 1.6, "opacity": 1, "size": 680},
"encoding": {
"x": {"field": "d", "type": "ordinal"},
"y": {"field": "p", "type": "quantitative"}
}
},
{
"data": {"name": "logo"},
"mark": {"type": "text", "color": "#6e2435", "font": "Liberation Serif", "fontSize": 12, "align": "center", "baseline": "middle"},
"encoding": {
"x": {"field": "d", "type": "ordinal"},
"y": {"field": "p", "type": "quantitative"},
"text": {"field": "t"}
}
},
{
"data": {"name": "plus"},
"mark": {"type": "text", "color": "#6e2435", "font": "Liberation Sans", "fontSize": 8, "align": "center", "baseline": "middle"},
"encoding": {
"x": {"field": "d", "type": "ordinal"},
"y": {"field": "p", "type": "quantitative"},
"text": {"field": "t"}
}
},
{
"data": {"name": "words"},
"mark": {"type": "text", "color": "#7a2e3e", "font": "Liberation Sans", "fontSize": 6.5, "align": "left", "baseline": "middle", "dx": 2},
"encoding": {
"x": {"field": "d", "type": "ordinal"},
"y": {"field": "p", "type": "quantitative"},
"text": {"field": "t"}
}
}
]
}
